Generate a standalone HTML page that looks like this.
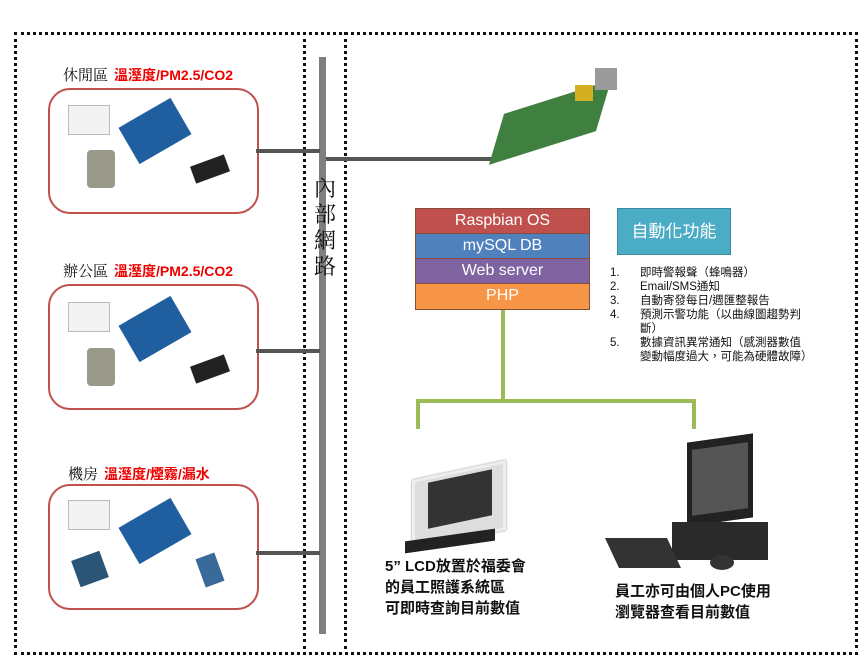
<!DOCTYPE html>
<html><head><meta charset="utf-8"><style>
body{margin:0;width:860px;height:657px;background:#fff;position:relative;overflow:hidden;font-family:"Liberation Sans","Noto Sans CJK TC",sans-serif}
.a{position:absolute}
.dot{position:absolute;border:3px dotted #111}
.rb{position:absolute;border:2px solid #c0504d;border-radius:22px;left:48px;width:207px;height:122px}
.lbl{position:absolute;font-size:15px;color:#111;font-family:"Noto Serif CJK SC",serif}
.lbl b{color:#e00;font-size:14px;margin-left:6px;font-family:"Liberation Sans","Noto Sans CJK TC",sans-serif}
.g{position:absolute;background:#555;height:4px}
.st{position:absolute;left:415px;width:175px;color:#fff;font-size:16px;line-height:24px;text-align:center;border:1px solid #8a4a3a;box-sizing:border-box}
.li{position:absolute;left:610px;font-size:11.5px;color:#111;line-height:14px}
.li span{position:absolute;left:30px;white-space:nowrap}
</style></head><body>
<div class="dot" style="left:14px;top:32px;width:838px;height:617px"></div>
<div class="dot" style="left:303px;top:32px;width:0;height:617px;border-width:0 0 0 3px"></div>
<div class="dot" style="left:344px;top:32px;width:0;height:617px;border-width:0 0 0 3px"></div>
<div class="a" style="left:319px;top:57px;width:7px;height:577px;background:#808080"></div>
<div class="a" style="left:308px;top:175px;width:34px;font-size:22px;line-height:26px;text-align:center;font-family:'Noto Serif CJK SC',serif;color:#111">內<br>部<br>網<br>路</div>

<div class="lbl" style="left:63px;top:64px">休閒區<b>溫溼度/PM2.5/CO2</b></div>
<div class="rb" style="top:88px"></div>
<div class="lbl" style="left:63px;top:260px">辦公區<b>溫溼度/PM2.5/CO2</b></div>
<div class="rb" style="top:284px"></div>
<div class="lbl" style="left:68px;top:463px">機房<b>溫溼度/煙霧/漏水</b></div>
<div class="rb" style="top:484px"></div>

<div class="a" style="left:68px;top:105px;width:40px;height:28px;background:#f3f3f3;border:1px solid #bbb"></div>
<div class="a" style="left:87px;top:150px;width:28px;height:38px;background:#9a9a8a;border-radius:4px"></div>
<div class="a" style="left:125px;top:110px;width:60px;height:42px;background:#1f5f9f;transform:rotate(-30deg)"></div>
<div class="a" style="left:192px;top:160px;width:36px;height:18px;background:#222;transform:rotate(-20deg)"></div>
<div class="a" style="left:68px;top:302px;width:40px;height:28px;background:#f3f3f3;border:1px solid #bbb"></div>
<div class="a" style="left:87px;top:348px;width:28px;height:38px;background:#9a9a8a;border-radius:4px"></div>
<div class="a" style="left:125px;top:308px;width:60px;height:42px;background:#1f5f9f;transform:rotate(-30deg)"></div>
<div class="a" style="left:192px;top:360px;width:36px;height:18px;background:#222;transform:rotate(-20deg)"></div>
<div class="a" style="left:68px;top:500px;width:40px;height:28px;background:#f3f3f3;border:1px solid #bbb"></div>
<div class="a" style="left:75px;top:555px;width:30px;height:28px;background:#2a5577;transform:rotate(-20deg)"></div>
<div class="a" style="left:125px;top:510px;width:60px;height:42px;background:#1f5f9f;transform:rotate(-30deg)"></div>
<div class="a" style="left:200px;top:555px;width:20px;height:30px;background:#3a6a9a;transform:rotate(-20deg)"></div>

<div class="g" style="left:256px;top:149px;width:64px"></div>
<div class="g" style="left:256px;top:349px;width:64px"></div>
<div class="g" style="left:256px;top:551px;width:64px"></div>
<div class="g" style="left:326px;top:157px;width:170px"></div>

<!-- raspberry pi -->
<div class="a" style="left:505px;top:95px;width:90px;height:55px;background:#3f8040;transform:skewX(-35deg) rotate(-22deg)"></div>
<div class="a" style="left:595px;top:68px;width:22px;height:22px;background:#9a9a9a"></div>
<div class="a" style="left:575px;top:85px;width:18px;height:16px;background:#d4b020"></div>

<div class="st" style="top:208px;height:26px;background:#c0504d">Raspbian OS</div>
<div class="st" style="top:233px;height:26px;background:#4f81bd">mySQL DB</div>
<div class="st" style="top:258px;height:26px;background:#8064a2">Web server</div>
<div class="st" style="top:283px;height:27px;background:#f79646">PHP</div>

<div class="a" style="left:617px;top:208px;width:114px;height:47px;background:#4bacc6;border:1px solid #3a8aa0;box-sizing:border-box;color:#fff;font-size:17px;line-height:45px;text-align:center">自動化功能</div>
<div class="li" style="top:266px">1.<span>即時警報聲（蜂鳴器）</span></div>
<div class="li" style="top:280px">2.<span>Email/SMS通知</span></div>
<div class="li" style="top:294px">3.<span>自動寄發每日/週匯整報告</span></div>
<div class="li" style="top:308px">4.<span>預測示警功能（以曲線圖趨勢判<br>斷）</span></div>
<div class="li" style="top:336px">5.<span>數據資訊異常通知（感測器數值<br>變動幅度過大，可能為硬體故障）</span></div>

<div class="a" style="left:501px;top:310px;width:4px;height:91px;background:#9bbb59"></div>
<div class="a" style="left:416px;top:399px;width:280px;height:4px;background:#9bbb59"></div>
<div class="a" style="left:416px;top:399px;width:4px;height:30px;background:#9bbb59"></div>
<div class="a" style="left:692px;top:399px;width:4px;height:30px;background:#9bbb59"></div>

<!-- LCD -->
<div class="a" style="left:412px;top:470px;width:88px;height:64px;background:#ddd;border:3px solid #eee;box-shadow:0 0 2px #888;transform:skewY(-12deg)"></div>
<div class="a" style="left:428px;top:476px;width:64px;height:46px;background:#333;transform:skewY(-12deg)"></div>
<div class="a" style="left:405px;top:535px;width:90px;height:12px;background:#222;transform:skewY(-8deg)"></div>
<!-- PC -->
<div class="a" style="left:687px;top:438px;width:66px;height:84px;background:#222;transform:skewY(-8deg)"></div>
<div class="a" style="left:692px;top:446px;width:56px;height:66px;background:#555;transform:skewY(-8deg)"></div>
<div class="a" style="left:672px;top:522px;width:96px;height:38px;background:#2a2a2a"></div>
<div class="a" style="left:612px;top:538px;width:62px;height:30px;background:#333;transform:skewX(25deg)"></div>
<div class="a" style="left:710px;top:555px;width:24px;height:15px;background:#333;border-radius:50%"></div>

<div class="a" style="left:385px;top:556px;font-size:15px;font-weight:bold;line-height:21px;color:#111">5” LCD放置於福委會<br>的員工照護系統區<br>可即時查詢目前數值</div>
<div class="a" style="left:615px;top:581px;font-size:15px;font-weight:bold;line-height:21px;color:#111">員工亦可由個人PC使用<br>瀏覽器查看目前數值</div>
</body></html>
